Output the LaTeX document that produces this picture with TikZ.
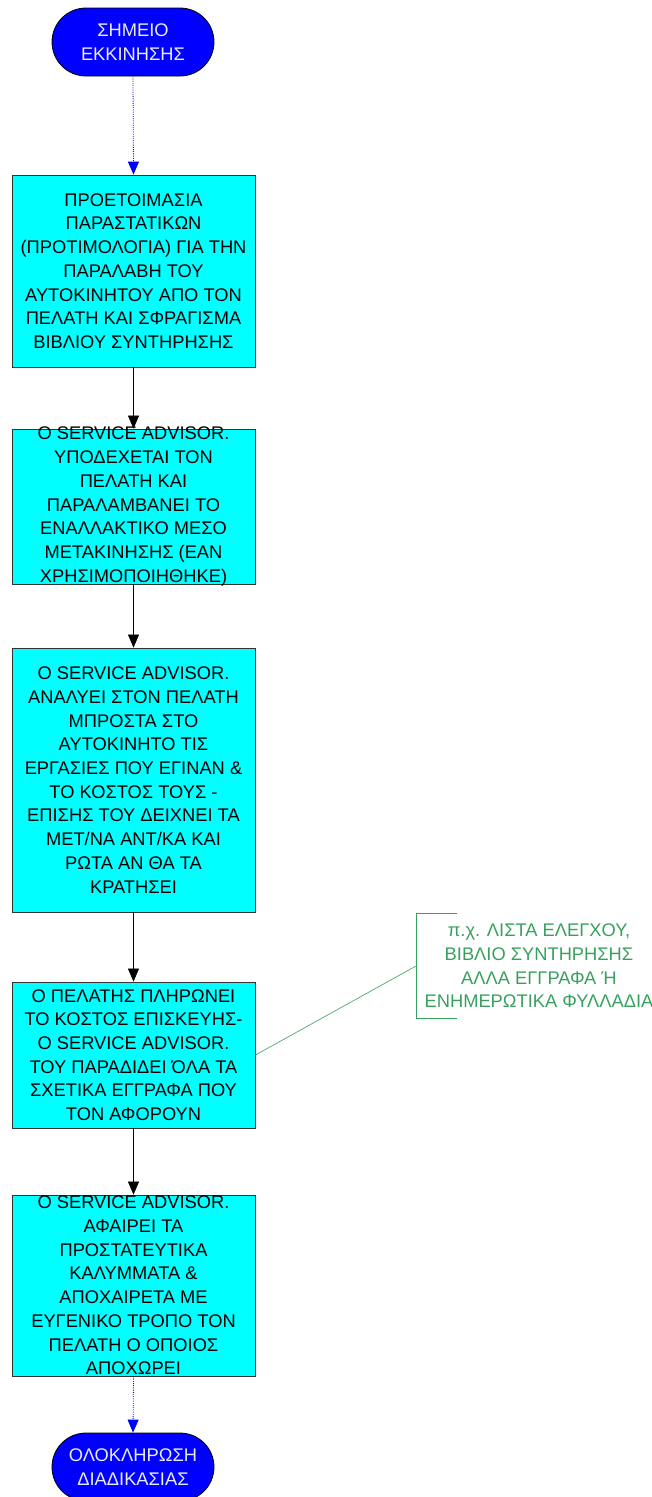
\documentclass[tikz,border=0pt]{standalone}
\usepackage{fontspec}
\setmainfont{Liberation Sans}
\usetikzlibrary{arrows.meta,shapes.misc}
\definecolor{termblue}{RGB}{0,0,255}
\definecolor{boxcyan}{RGB}{0,255,255}
\definecolor{notegreen}{RGB}{55,160,95}
\begin{document}
\begin{tikzpicture}[x=1pt,y=-1pt,
  txt/.style={font=\fontsize{18.3}{23.7}\selectfont, align=center, inner sep=0pt},
  term/.style={rounded rectangle, draw=black, line width=0.8pt, fill=termblue,
    minimum width=162pt, minimum height=68pt, inner sep=0pt, text=white!92!blue, txt},
  stepbox/.style={rectangle, draw=black!80, line width=0.8pt, fill=boxcyan,
    minimum width=243pt, inner sep=0pt},
  flow/.style={-{Triangle[width=11pt,length=13pt]}, line width=0.6pt, black},
  dotflow/.style={-{Triangle[width=11pt,length=13pt]}, line width=0.8pt, termblue,
    dash pattern=on 1pt off 1.2pt},
  notetxt/.style={txt, text=notegreen},
  noteline/.style={draw=notegreen, line width=0.6pt}
]
\useasboundingbox (0,0) rectangle (652,1497);

% terminals
\node[term] (start) at (133,42) {ΣΗΜΕΙΟ\\ΕΚΚΙΝΗΣΗΣ};
\node[term] (finish) at (133,1467) {ΟΛΟΚΛΗΡΩΣΗ\\ΔΙΑΔΙΚΑΣΙΑΣ};

% process boxes
\node[stepbox, minimum height=192pt] (b1) at (133.5,271) {};
\node[stepbox, minimum height=155pt] (b2) at (133.5,506.5) {};
\node[stepbox, minimum height=264pt] (b3) at (133.5,780) {};
\node[stepbox, minimum height=146pt] (b4) at (133.5,1055) {};
\node[stepbox, minimum height=181pt] (b5) at (133.5,1285.5) {};

% box texts
\node[txt] (t1) at (b1.center) {ΠΡΟΕΤΟΙΜΑΣΙΑ\\ΠΑΡΑΣΤΑΤΙΚΩΝ\\(ΠΡΟΤΙΜΟΛΟΓΙΑ) ΓΙΑ ΤΗΝ\\ΠΑΡΑΛΑΒΗ ΤΟΥ\\ΑΥΤΟΚΙΝΗΤΟΥ ΑΠΟ ΤΟΝ\\ΠΕΛΑΤΗ ΚΑΙ ΣΦΡΑΓΙΣΜΑ\\ΒΙΒΛΙΟΥ ΣΥΝΤΗΡΗΣΗΣ};
\node[txt] (t2) at (b2.center) {O SERVICE ADVISOR.\\ΥΠΟΔΕΧΕΤΑΙ ΤΟΝ\\ΠΕΛΑΤΗ ΚΑΙ\\ΠΑΡΑΛΑΜΒΑΝΕΙ ΤΟ\\ΕΝΑΛΛΑΚΤΙΚΟ ΜΕΣΟ\\ΜΕΤΑΚΙΝΗΣΗΣ (ΕΑΝ\\ΧΡΗΣΙΜΟΠΟΙΗΘΗΚΕ)};
\node[txt] (t3) at (b3.center) {O SERVICE ADVISOR.\\ΑΝΑΛΥΕΙ ΣΤΟΝ ΠΕΛΑΤΗ\\ΜΠΡΟΣΤΑ ΣΤΟ\\ΑΥΤΟΚΙΝΗΤΟ ΤΙΣ\\ΕΡΓΑΣΙΕΣ ΠΟΥ ΕΓΙΝΑΝ \&\\ΤΟ ΚΟΣΤΟΣ ΤΟΥΣ -\\ΕΠΙΣΗΣ ΤΟΥ ΔΕΙΧΝΕΙ ΤΑ\\ΜΕΤ/ΝΑ ΑΝΤ/ΚΑ ΚΑΙ\\ΡΩΤΑ ΑΝ ΘΑ ΤΑ\\ΚΡΑΤΗΣΕΙ};
\node[txt] (t4) at (b4.center) {Ο ΠΕΛΑΤΗΣ ΠΛΗΡΩΝΕΙ\\ΤΟ ΚΟΣΤΟΣ ΕΠΙΣΚΕΥΗΣ-\\O SERVICE ADVISOR.\\ΤΟΥ ΠΑΡΑΔΙΔΕΙ ΌΛΑ ΤΑ\\ΣΧΕΤΙΚΑ ΕΓΓΡΑΦΑ ΠΟΥ\\ΤΟΝ ΑΦΟΡΟΥΝ};
\node[txt] (t5) at (b5.center) {O SERVICE ADVISOR.\\ΑΦΑΙΡΕΙ ΤΑ\\ΠΡΟΣΤΑΤΕΥΤΙΚΑ\\ΚΑΛΥΜΜΑΤΑ \&\\ΑΠΟΧΑΙΡΕΤΑ ΜΕ\\ΕΥΓΕΝΙΚΟ ΤΡΟΠΟ ΤΟΝ\\ΠΕΛΑΤΗ Ο ΟΠΟΙΟΣ\\ΑΠΟΧΩΡΕΙ};

% connectors
\draw[dotflow] (start.south) -- (b1.north);
\draw[flow] (b1.south) -- (b2.north);
\draw[flow] (b2.south) -- (b3.north);
\draw[flow] (b3.south) -- (b4.north);
\draw[flow] (b4.south) -- (b5.north);
\draw[dotflow] (b5.south) -- (finish.north);

% annotation
\node[notetxt] (note) at (539,966) {π.χ. ΛΙΣΤΑ ΕΛΕΓΧΟΥ,\\ΒΙΒΛΙΟ ΣΥΝΤΗΡΗΣΗΣ\\ΑΛΛΑ ΕΓΓΡΑΦΑ Ή\\ΕΝΗΜΕΡΩΤΙΚΑ ΦΥΛΛΑΔΙΑ};
\coordinate (nb) at (416,966);
\draw[noteline] (457,913) -- (416,913) -- (416,1018) -- (457,1018);
\draw[noteline] (nb) -- (b4.east);
\end{tikzpicture}
\end{document}
